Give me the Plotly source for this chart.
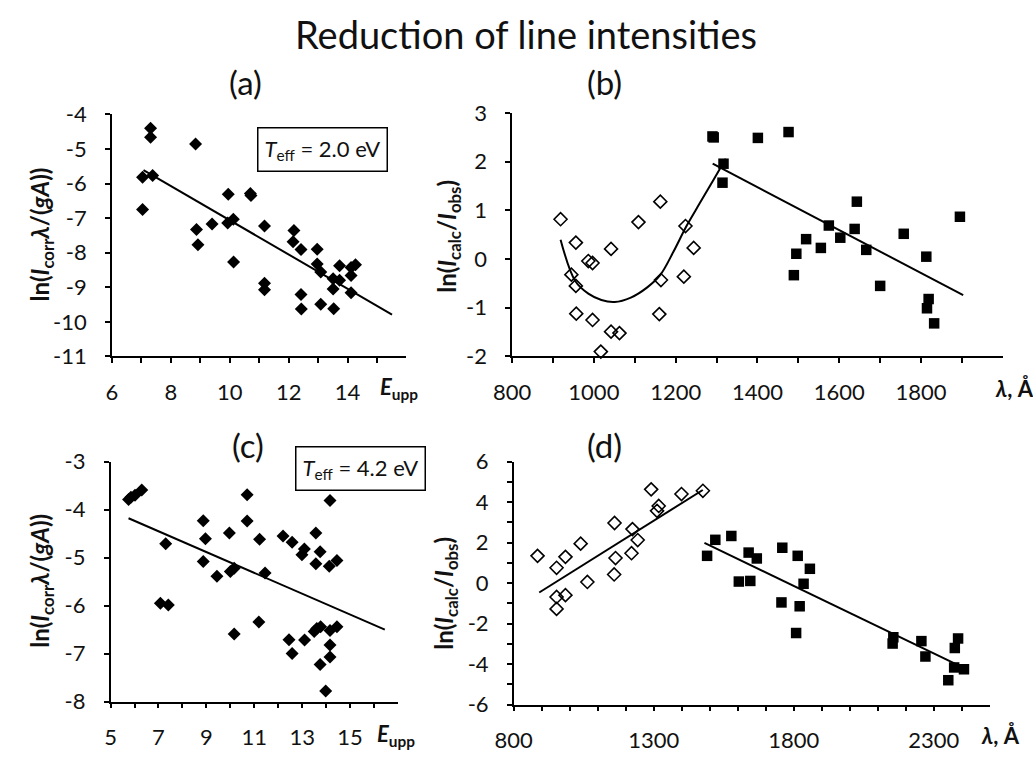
import plotly.graph_objects as go

# ---------------- DATA ----------------
# (a) E_upp vs ln(I_corr*lambda/(gA)), T_eff = 2.0 eV
a_E = [7.31, 7.31, 7.04, 7.38, 7.04, 8.84, 8.87, 8.92, 9.40, 9.95, 9.93, 10.12, 10.13,
       10.70, 10.72, 11.18, 11.18, 11.18, 12.18, 12.15, 12.42, 12.42, 12.43, 12.97, 12.97,
       13.09, 13.09, 13.51, 13.51, 13.53, 13.73, 13.73, 14.12, 14.12, 14.27, 14.12]
a_v = [-4.40, -4.66, -5.82, -5.77, -6.75, -4.86, -7.33, -7.77, -7.17, -6.31, -7.14, -7.03, -8.27,
       -6.29, -6.35, -7.23, -8.88, -9.07, -7.36, -7.68, -7.91, -9.21, -9.63, -7.90, -8.33,
       -8.56, -9.49, -8.75, -9.05, -9.62, -8.38, -8.80, -8.43, -8.66, -8.35, -9.16]
a_fit_E = [7.07, 15.51]
a_fit_v = [-5.61, -9.79]

# (b) lambda vs ln(I_calc/I_obs)
b_open_l = [918.6, 956, 986.5, 996.8, 945, 956, 1042, 957, 996.8, 1042, 1062.6, 1017,
            1109, 1162.5, 1164, 1160, 1224, 1244, 1220]
b_open_v = [0.82, 0.34, -0.04, -0.08, -0.32, -0.55, 0.21, -1.12, -1.25, -1.49, -1.52, -1.90,
            0.76, 1.18, -0.43, -1.13, 0.68, 0.23, -0.36]
b_fill_l = [1290, 1293, 1317, 1314.5, 1401, 1476, 1489, 1495, 1519, 1555, 1574.5, 1602.5,
            1637.6, 1643, 1666, 1700, 1757.6, 1812.8, 1818.5, 1814.5, 1832, 1895]
b_fill_v = [2.52, 2.50, 1.96, 1.57, 2.49, 2.61, -0.33, 0.11, 0.41, 0.23, 0.69, 0.44,
            0.62, 1.18, 0.19, -0.55, 0.52, 0.05, -0.82, -1.01, -1.32, 0.87]
b_curve_l = [918.6, 954.5, 986.5, 1018.4, 1050.5, 1090.4, 1130.5, 1162, 1194.5, 1226.5,
             1258.4, 1290.5, 1322.5]
b_curve_v = [0.40, -0.45, -0.71, -0.84, -0.88, -0.79, -0.58, -0.33, 0.15, 0.68,
             1.14, 1.60, 2.06]
b_fit_l = [1290.5, 1903]
b_fit_v = [1.96, -0.74]

# (c) E_upp vs ln(I_corr*lambda/(gA)), T_eff = 4.2 eV
c_E = [5.75, 5.85, 6.02, 6.30, 7.30, 7.08, 7.41, 8.87, 8.96, 8.87, 9.44, 9.96, 10.0, 10.16,
       10.16, 10.70, 10.70, 11.22, 11.19, 11.45, 12.20, 12.58, 12.45, 12.58, 13.09, 12.99,
       13.10, 13.57, 13.57, 13.75, 13.50, 13.61, 13.77, 13.75, 13.98, 14.16, 14.13, 14.16,
       14.16, 14.16, 14.45, 14.45]
c_v = [-3.79, -3.74, -3.70, -3.59, -4.71, -5.95, -5.99, -4.23, -4.61, -5.08, -5.39, -4.49,
       -5.29, -5.22, -6.59, -3.69, -4.24, -4.62, -6.34, -5.32, -4.55, -4.68, -6.71, -7.00,
       -4.82, -4.94, -6.72, -4.49, -5.13, -4.88, -6.54, -6.48, -6.44, -7.23, -7.78, -3.81,
       -5.18, -6.52, -6.82, -7.07, -5.06, -6.44]
c_fit_E = [5.75, 16.45]
c_fit_v = [-4.18, -6.50]

# (d) lambda vs ln(I_calc/I_obs)
d_open_l = [885, 953, 984.7, 1039, 953, 984.7, 953, 1063, 1160, 1163.5, 1158.6, 1224,
            1220.6, 1242.7, 1290.7, 1317.7, 1311.7, 1399, 1475.5]
d_open_v = [1.35, 0.76, 1.30, 1.95, -0.68, -0.59, -1.27, 0.06, 2.97, 1.24, 0.43, 2.67,
            1.48, 2.13, 4.63, 3.81, 3.57, 4.40, 4.56]
d_fill_l = [1490.5, 1519.8, 1577, 1603.8, 1644.7, 1638.8, 1668, 1759, 1756, 1814, 1835,
            1857.5, 1821, 1808.4, 2155.5, 2153, 2255.7, 2270, 2386.7, 2375, 2372.7,
            2407.7, 2351.7]
d_fill_v = [1.35, 2.14, 2.33, 0.08, 0.11, 1.51, 1.22, 1.75, -0.95, 1.35, -0.03, 0.71,
            -1.14, -2.46, -2.67, -2.98, -2.86, -3.62, -2.73, -3.20, -4.16, -4.25, -4.79]
d_open_fit_l = [891, 1475]
d_open_fit_v = [-0.46, 4.60]
d_fill_fit_l = [1481, 2386.7]
d_fill_fit_v = [1.99, -4.05]

# tick labels
a_xticks = [6, 8, 10, 12, 14]
a_yticks = [-4, -5, -6, -7, -8, -9, -10, -11]
b_xticks = [800, 1000, 1200, 1400, 1600, 1800]
b_yticks = [3, 2, 1, 0, -1, -2]
c_xticks = [5, 7, 9, 11, 13, 15]
c_yticks = [-3, -4, -5, -6, -7, -8]
d_xticks = [800, 1300, 1800, 2300]
d_yticks = [6, 4, 2, 0, -2, -4, -6]

# ---------------- LAYOUT ----------------
W, H = 1033, 765
FONT = "Lato"
TXT = "#111111"

def xd(p0, p1):
    return [p0 / W, p1 / W]

def yd(top, bottom):
    return [1 - bottom / H, 1 - top / H]

def lab(v):
    return str(v)

fig = go.Figure()

dia = dict(symbol="diamond", size=10, color="black")
dia_open = dict(symbol="diamond-open", size=10, color="black", line=dict(width=1.6, color="black"))
sq = dict(symbol="square", size=10.5, color="black")
fitline = dict(color="black", width=2)

# (a)
fig.add_trace(go.Scatter(x=a_E, y=a_v, mode="markers", marker=dia, xaxis="x", yaxis="y", cliponaxis=False))
fig.add_trace(go.Scatter(x=a_fit_E, y=a_fit_v, mode="lines", line=fitline, xaxis="x", yaxis="y"))
# (b)
fig.add_trace(go.Scatter(x=b_open_l, y=b_open_v, mode="markers", marker=dia_open, xaxis="x2", yaxis="y2", cliponaxis=False))
fig.add_trace(go.Scatter(x=b_curve_l, y=b_curve_v, mode="lines", line=dict(color="black", width=2, shape="spline"), xaxis="x2", yaxis="y2"))
fig.add_trace(go.Scatter(x=b_fill_l, y=b_fill_v, mode="markers", marker=sq, xaxis="x2", yaxis="y2", cliponaxis=False))
fig.add_trace(go.Scatter(x=b_fit_l, y=b_fit_v, mode="lines", line=fitline, xaxis="x2", yaxis="y2"))
# (c)
fig.add_trace(go.Scatter(x=c_E, y=c_v, mode="markers", marker=dia, xaxis="x3", yaxis="y3", cliponaxis=False))
fig.add_trace(go.Scatter(x=c_fit_E, y=c_fit_v, mode="lines", line=fitline, xaxis="x3", yaxis="y3"))
# (d)
fig.add_trace(go.Scatter(x=d_open_l, y=d_open_v, mode="markers", marker=dia_open, xaxis="x4", yaxis="y4", cliponaxis=False))
fig.add_trace(go.Scatter(x=d_open_fit_l, y=d_open_fit_v, mode="lines", line=fitline, xaxis="x4", yaxis="y4"))
fig.add_trace(go.Scatter(x=d_fill_l, y=d_fill_v, mode="markers", marker=sq, xaxis="x4", yaxis="y4", cliponaxis=False))
fig.add_trace(go.Scatter(x=d_fill_fit_l, y=d_fill_fit_v, mode="lines", line=fitline, xaxis="x4", yaxis="y4"))

tickfont = dict(family=FONT, size=22, color=TXT)
common = dict(showline=True, linecolor="black", linewidth=1.5, ticks="outside", ticklen=5,
              tickwidth=1.5, tickcolor="black", showgrid=False, zeroline=False,
              tickfont=tickfont, mirror=False, fixedrange=True)
ycommon = dict(ticklabelstandoff=14, **common)
xcommon = dict(ticklabelstandoff=10, **common)

def minor(vals):
    return dict(tickvals=vals, ticks="outside", ticklen=5, tickwidth=1.5, tickcolor="black", showgrid=False)

fig.update_layout(
    width=W, height=H, margin=dict(l=0, r=0, t=0, b=0),
    paper_bgcolor="white", plot_bgcolor="white", showlegend=False,
    font=dict(family=FONT, color=TXT),
    xaxis=dict(domain=xd(94.7, 394.7), range=[6, 16], anchor="y",
               tickvals=a_xticks, ticktext=[lab(v) for v in a_xticks],
               minor=minor([7, 9, 11, 13, 15]), **xcommon),
    yaxis=dict(domain=yd(104, 355), range=[-11, -4], anchor="x",
               tickvals=a_yticks, ticktext=[lab(v) for v in a_yticks], **ycommon),
    xaxis2=dict(domain=xd(502.3, 1002.3), range=[800, 2000], anchor="y2",
                tickvals=b_xticks, ticktext=[lab(v) for v in b_xticks],
                minor=minor([900, 1100, 1300, 1500, 1700, 1900]), **xcommon),
    yaxis2=dict(domain=yd(102.7, 355), range=[-2, 3], anchor="x2",
                tickvals=b_yticks, ticktext=[lab(v) for v in b_yticks], **ycommon),
    xaxis3=dict(domain=xd(93.3, 386.1), range=[5, 17], anchor="y3",
                tickvals=c_xticks, ticktext=[lab(v) for v in c_xticks],
                minor=minor([6, 8, 10, 12, 14, 16]), **xcommon),
    yaxis3=dict(domain=yd(464, 712.7), range=[-8, -3], anchor="x3",
                tickvals=c_yticks, ticktext=[lab(v) for v in c_yticks], **ycommon),
    xaxis4=dict(domain=xd(504, 989), range=[800, 2500], anchor="y4",
                tickvals=d_xticks, ticktext=[lab(v) for v in d_xticks],
                minor=minor([900, 1000, 1100, 1200, 1400, 1500, 1600, 1700, 1900, 2000, 2100, 2200, 2400]),
                **xcommon),
    yaxis4=dict(domain=yd(464, 716), range=[-6, 6], anchor="x4",
                tickvals=d_yticks, ticktext=[lab(v) for v in d_yticks],
                minor=minor([5, 3, 1, -1, -3, -5]), **ycommon),
)

def ann(text, x, y, size, angle=0, **kw):
    fig.add_annotation(text=text, x=x / W, y=1 - y / H, xref="paper", yref="paper",
                       xanchor="center", yanchor="middle",
                       showarrow=False, textangle=angle,
                       font=dict(family=FONT, size=size, color=TXT), **kw)

ann("Reduction of line intensities", 517, 21, 38)
ann("(a)", 231, 70, 33)
ann("(b)", 596, 70, 33)
ann("(c)", 233, 447, 33)
ann("(d)", 596, 447, 33)

ylab_corr = "<b>ln(<i>I</i><sub>corr</sub><i>λ</i>/(<i>gA</i>))</b>"
ylab_calc = "<b>ln(<i>I</i><sub>calc</sub>/<i>I</i><sub>obs</sub>)</b>"
ann(ylab_corr, 23, 229, 24, angle=-90)
ann(ylab_corr, 23, 588, 24, angle=-90)
ann(ylab_calc, 438, 230, 24, angle=-90)
ann(ylab_calc, 435, 600, 24, angle=-90)

eupp = "<b><i>E</i><sub>upp</sub></b>"
lam = "<b><i>λ</i>, Å</b>"
ann(eupp, 387, 388, 22)
ann(eupp, 384, 747, 22)
ann(lam, 1014, 388, 22)
ann(lam, 1000, 748, 22)

box = dict(bordercolor="black", borderwidth=1.5, borderpad=6, bgcolor="white")
ann("<i>T</i><sub>eff</sub> = 2.0 eV", 309, 140, 22, **box)
ann("<i>T</i><sub>eff</sub> = 4.2 eV", 348, 471, 22, **box)

fig.write_html("out.html")
